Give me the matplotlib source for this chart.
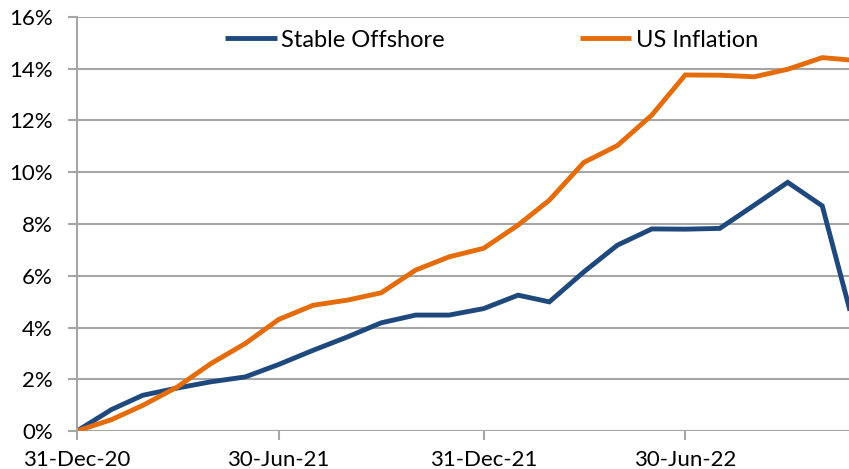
import matplotlib

matplotlib.use("Agg")

import matplotlib.dates as mdates
import matplotlib.pyplot as plt
import pandas as pd
from matplotlib.ticker import FuncFormatter

# month-end observations, 31-Dec-20 .. 30-Nov-22
dates = pd.date_range("2020-12-31", "2022-11-30", freq="ME")
stable_offshore = [
    0.00, 0.83, 1.38, 1.66, 1.90, 2.09, 2.57, 3.12, 3.64, 4.18, 4.48, 4.48,
    4.73, 5.25, 4.99, 6.15, 7.18, 7.81, 7.80, 7.83, 8.73, 9.61, 8.70, 3.82,
]
us_inflation = [
    0.00, 0.44, 0.99, 1.70, 2.60, 3.38, 4.31, 4.86, 5.06, 5.34, 6.22, 6.73,
    7.06, 7.96, 8.92, 10.38, 11.03, 12.21, 13.76, 13.75, 13.69, 13.98, 14.43, 14.32,
]
x_ticks = ["2020-12-31", "2021-06-30", "2021-12-31", "2022-06-30"]
y_ticks = [0, 2, 4, 6, 8, 10, 12, 14, 16]

BLUE = "#1F497D"
ORANGE = "#E46C0A"
GRID = "#A6A6A6"
FS = 16

plt.rcParams["font.family"] = ["Lato", "DejaVu Sans"]

fig = plt.figure(figsize=(8.49, 4.69), dpi=100)
ax = fig.add_axes([77 / 849, 1 - 431 / 469, 1 - 77 / 849, (431 - 17) / 469])

ax.plot(dates, stable_offshore, color=BLUE, lw=3.5, label="Stable Offshore",
        solid_joinstyle="miter", solid_capstyle="butt")
ax.plot(dates, us_inflation, color=ORANGE, lw=3.5, label="US Inflation",
        solid_joinstyle="miter", solid_capstyle="butt")

x0 = pd.Timestamp("2020-12-31")
ax.set_xlim(x0, x0 + pd.Timedelta(days=693))
ax.set_ylim(0, 16)

ax.set_yticks(y_ticks)
ax.yaxis.set_major_formatter(FuncFormatter(lambda v, _: f"{v:.0f}%"))
ax.set_xticks(pd.to_datetime(x_ticks))
ax.xaxis.set_major_formatter(mdates.DateFormatter("%d-%b-%y"))

ax.grid(axis="y", color=GRID, lw=1.5)
ax.set_axisbelow(True)
for side in ["top", "right", "bottom"]:
    ax.spines[side].set_visible(False)
ax.spines["left"].set_color(GRID)
ax.spines["left"].set_linewidth(1.5)
ax.axhline(0, color=GRID, lw=1.5, zorder=1)

ax.tick_params(axis="y", length=6.5, width=1.5, color=GRID, labelsize=FS, pad=11)
ax.tick_params(axis="x", length=6.5, width=1.5, color=GRID, labelsize=FS, pad=7)

ax.legend(loc="center", bbox_to_anchor=(0.537, 0.944), ncol=2, frameon=False,
          fontsize=17, handlelength=2.2, handletextpad=0.17, columnspacing=5.7)

fig.savefig("out.png", dpi=100)
